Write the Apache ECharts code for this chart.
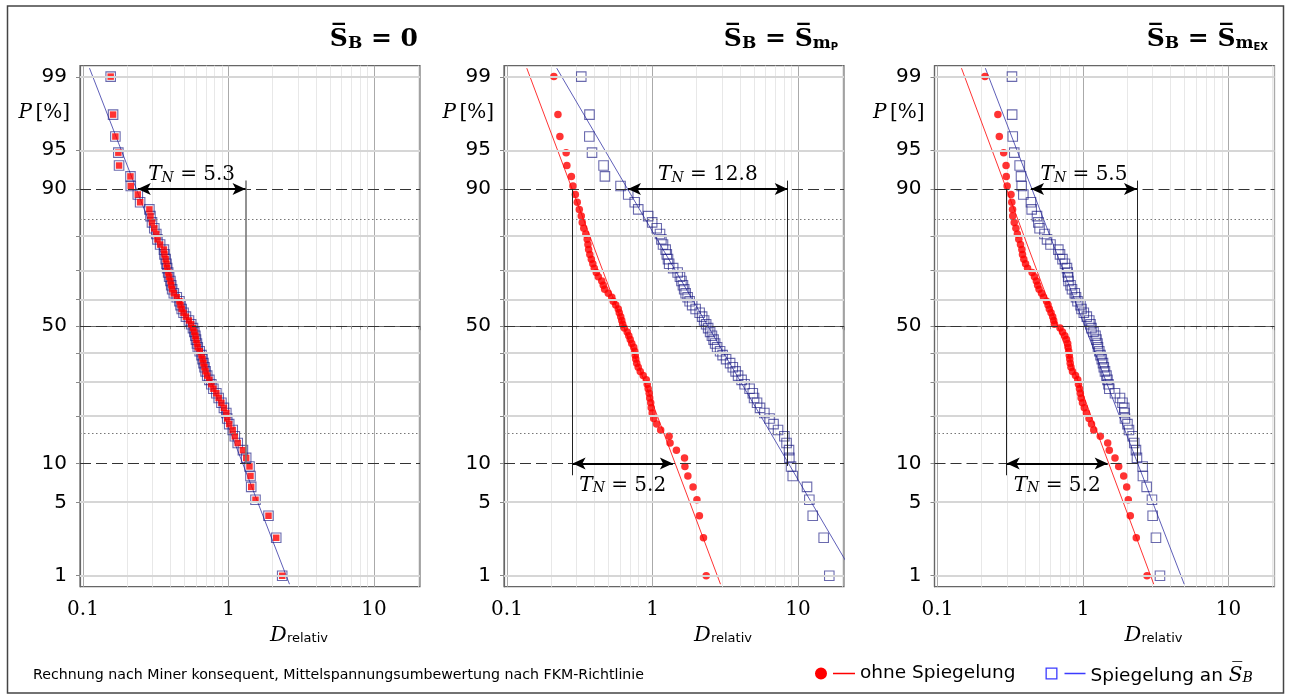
<!DOCTYPE html>
<html><head><meta charset="utf-8">
<script src="https://cdn.jsdelivr.net/npm/echarts@6/dist/echarts.min.js"></script>
<style>html,body{margin:0;padding:0;background:#fff}#c{width:1291px;height:698px}</style>
</head><body><div id="c"></div><script>
// ---- data ----
const P_PERCENT = [99.01,97.59,96.17,94.74,93.32,91.90,90.48,89.06,87.64,86.22,
 84.80,83.38,81.96,80.54,79.12,77.70,76.28,74.86,73.44,72.02,
 70.60,69.18,67.76,66.34,64.91,63.49,62.07,60.65,59.23,57.81,
 56.39,54.97,53.55,52.13,50.71,49.29,47.87,46.45,45.03,43.61,
 42.19,40.77,39.35,37.93,36.51,35.09,33.66,32.24,30.82,29.40,
 27.98,26.56,25.14,23.72,22.30,20.88,19.46,18.04,16.62,15.20,
 13.78,12.36,10.94,9.52,8.10,6.68,5.26,3.84,2.41,0.99];
const D_PANEL1 = [0.155,0.161,0.167,0.175,0.177,0.212,0.213,0.238,0.247,0.286,
 0.291,0.298,0.309,0.319,0.325,0.339,0.360,0.363,0.370,0.375,
 0.379,0.385,0.391,0.399,0.404,0.410,0.421,0.441,0.460,0.468,
 0.477,0.491,0.510,0.535,0.554,0.570,0.582,0.592,0.598,0.607,
 0.615,0.634,0.652,0.663,0.673,0.684,0.696,0.714,0.739,0.762,
 0.787,0.825,0.856,0.894,0.930,0.966,0.980,1.011,1.069,1.105,
 1.157,1.256,1.323,1.394,1.416,1.432,1.533,1.883,2.128,2.339];
const D_PANEL2_RED = [0.210,0.224,0.231,0.255,0.258,0.277,0.284,0.295,0.304,0.314,
 0.324,0.329,0.337,0.348,0.356,0.360,0.364,0.371,0.380,0.389,
 0.398,0.411,0.424,0.448,0.459,0.469,0.497,0.525,0.537,0.559,
 0.582,0.591,0.605,0.615,0.624,0.640,0.670,0.687,0.703,0.720,
 0.743,0.755,0.761,0.767,0.779,0.798,0.824,0.863,0.906,0.920,
 0.934,0.949,0.957,0.972,0.980,0.995,1.019,1.068,1.138,1.300,
 1.320,1.460,1.660,1.670,1.750,1.900,2.020,2.100,2.240,2.340];
const D_PANEL2_BLUE = [0.324,0.369,0.368,0.384,0.461,0.471,0.603,0.681,0.755,0.798,
 0.934,0.995,1.069,1.126,1.151,1.181,1.232,1.254,1.278,1.302,
 1.387,1.489,1.544,1.581,1.619,1.651,1.690,1.744,1.800,1.873,
 1.979,2.109,2.194,2.264,2.337,2.412,2.489,2.561,2.630,2.693,
 2.780,2.915,3.032,3.205,3.415,3.563,3.724,3.874,4.095,4.294,
 4.647,4.889,4.989,5.230,5.484,5.871,6.374,6.789,7.290,8.054,
 8.339,8.674,8.716,8.954,9.196,11.53,11.96,12.62,15.01,16.40];
const D_PANEL3_RED = [0.212,0.260,0.266,0.285,0.296,0.297,0.301,0.320,0.324,0.328,
 0.329,0.337,0.346,0.354,0.362,0.372,0.380,0.384,0.392,0.403,
 0.416,0.447,0.464,0.478,0.488,0.499,0.519,0.536,0.562,0.575,
 0.587,0.603,0.619,0.629,0.637,0.695,0.723,0.750,0.770,0.785,
 0.789,0.798,0.805,0.811,0.817,0.827,0.847,0.888,0.920,0.931,
 0.946,0.958,0.971,0.992,1.021,1.055,1.100,1.144,1.185,1.315,
 1.478,1.516,1.659,1.759,1.904,1.996,2.047,2.113,2.323,2.753];
const D_PANEL3_BLUE = [0.325,0.326,0.329,0.337,0.367,0.375,0.379,0.389,0.439,0.444,
 0.483,0.493,0.503,0.544,0.566,0.598,0.677,0.695,0.723,0.752,
 0.776,0.785,0.791,0.795,0.821,0.840,0.878,0.895,0.917,0.961,
 0.977,1.013,1.062,1.105,1.126,1.144,1.181,1.219,1.238,1.258,
 1.268,1.294,1.319,1.346,1.372,1.390,1.416,1.450,1.473,1.497,
 1.516,1.659,1.796,1.868,1.922,1.930,1.943,2.021,2.070,2.194,
 2.250,2.312,2.349,2.570,2.580,2.739,2.978,3.011,3.172,3.380];
// fitted lines: D at P = 99.2 % and 0.8 %
const FIT_P = [99.2, 0.8];
const FIT_PANEL1 = [0.1109, 2.626];
const FIT_PANEL2_RED = [0.1368, 2.934];
const FIT_PANEL2_BLUE = [0.2197, 26.4];
const FIT_PANEL3_RED = [0.1462, 3.064];
const FIT_PANEL3_BLUE = [0.2133, 4.963];
// scatter-band annotations
const TN_LABELS = [['5.3'], ['12.8', '5.2'], ['5.5', '5.2']];
const TN_LEVEL = [[90], [90, 10], [90, 10]];
const TN_FROM = [[0.238], [0.678, 0.2825], [0.4395, 0.299]];
const TN_TO = [[1.309], [8.50, 1.38], [2.349, 1.478]];
const VLINE_X = [[1.309], [8.50, 0.2825], [2.349, 0.299]];
const VLINE_P = [[[91.3, 10]], [[91.3, 9.6], [90, 8.2]], [[91.3, 10], [90, 8.2]]];
// axes
const Y_LABELS = [1, 5, 10, 50, 90, 95, 99];
const Y_TICKS = [1, 5, 10, 20, 30, 40, 50, 60, 70, 80, 90, 95, 99];
const GRID_P_SOLID = [1, 5, 20, 30, 40, 60, 70, 80, 95, 99];
const GRID_P_DASHED = [10, 50, 90];
const GRID_P_DOTTED = [15.87, 84.13];
const X_LABELS = [0.1, 1, 10];
const TITLES = ['{s|S\u0305}{b|B}{e| = 0}', '{s|S\u0305}{b|B}{e| = }{s|S\u0305}{b|m}{t|P}', '{s|S\u0305}{b|B}{e| = }{s|S\u0305}{b|m}{t|EX}'];

// ---- probability (normal) scale transform ----
function probit(p){
 const a=[-3.969683028665376e+01,2.209460984245205e+02,-2.759285104469687e+02,1.383577518672690e+02,-3.066479806614716e+01,2.506628277459239e+00];
 const b=[-5.447609879822406e+01,1.615858368580409e+02,-1.556989798598866e+02,6.680131188771972e+01,-1.328068155288572e+01];
 const c=[-7.784894002430293e-03,-3.223964580411365e-01,-2.400758277161838e+00,-2.549732539343734e+00,4.374664141464968e+00,2.938163982698783e+00];
 const d=[7.784695709041462e-03,3.224671290700398e-01,2.445134137142996e+00,3.754408661907416e+00];
 const pl=0.02425, ph=1-pl; let q, r;
 if(p<pl){q=Math.sqrt(-2*Math.log(p));return (((((c[0]*q+c[1])*q+c[2])*q+c[3])*q+c[4])*q+c[5])/((((d[0]*q+d[1])*q+d[2])*q+d[3])*q+1);}
 if(p>ph){q=Math.sqrt(-2*Math.log(1-p));return -(((((c[0]*q+c[1])*q+c[2])*q+c[3])*q+c[4])*q+c[5])/((((d[0]*q+d[1])*q+d[2])*q+d[3])*q+1);}
 q=p-0.5;r=q*q;return (((((a[0]*r+a[1])*r+a[2])*r+a[3])*r+a[4])*r+a[5])*q/(((((b[0]*r+b[1])*r+b[2])*r+b[3])*r+b[4])*r+1);
}
const z = p => probit(p / 100);

const RED = '#ff0000';
const BLUE_MARK = 'rgba(22,22,128,0.8)';
const BLUE_LINE = '#3636a6';
const NAME_RED = 'ohne Spiegelung';
const NAME_BLUE = 'Spiegelung an S_B';
const SERIF = 'DejaVu Serif';
const SANS = 'DejaVu Sans';

const panels = [
 {left: 80, red: D_PANEL1, blue: D_PANEL1, fitRed: null, fitBlue: FIT_PANEL1, redSymbol: 'rect', vColor: '#777', vWidth: 1.6},
 {left: 504, red: D_PANEL2_RED, blue: D_PANEL2_BLUE, fitRed: FIT_PANEL2_RED, fitBlue: FIT_PANEL2_BLUE, redSymbol: 'circle', vColor: '#222', vWidth: 1},
 {left: 934.5, red: D_PANEL3_RED, blue: D_PANEL3_BLUE, fitRed: FIT_PANEL3_RED, fitBlue: FIT_PANEL3_BLUE, redSymbol: 'circle', vColor: '#222', vWidth: 1}
];
const TOP = 65.7, H = 521, W = 340;
const Z_MIN = -2.432, Z_MAX = 2.432;

const grids = [], xAxes = [], yAxes = [], series = [], titles = [];
const titleRight = [873, 453, 23];

const tnRich = {
 i: {fontFamily: SERIF, fontStyle: 'italic', fontSize: 20, color: '#000', verticalAlign: 'bottom', lineHeight: 24},
 s: {fontFamily: SERIF, fontStyle: 'italic', fontSize: 14, color: '#000', verticalAlign: 'bottom', lineHeight: 16},
 r: {fontFamily: SERIF, fontSize: 20, color: '#000', verticalAlign: 'bottom', lineHeight: 24}
};

panels.forEach((pn, k) => {
 grids.push({left: pn.left, top: TOP, width: W, height: H, show: true, borderColor: '#666', borderWidth: 1.2, backgroundColor: 'transparent'});
 xAxes.push({
  type: 'log', logBase: 10, gridIndex: k, min: 0.0954, max: 20.7,
  name: '{i|D}{s|relativ}', nameLocation: 'middle', nameGap: 22,
  nameTextStyle: {padding: [0, 0, 0, 98], rich: {
   i: {fontFamily: SERIF, fontStyle: 'italic', fontSize: 21, color: '#000', verticalAlign: 'bottom', lineHeight: 26},
   s: {fontFamily: SANS, fontSize: 13, color: '#000', verticalAlign: 'bottom', lineHeight: 16}}},
  axisLine: {show: true, lineStyle: {color: '#666', width: 1.2}},
  axisTick: {show: true, length: 4, lineStyle: {color: '#888'}},
  minorTick: {show: true, splitNumber: 9, length: 3, lineStyle: {color: '#999'}},
  splitLine: {show: true, lineStyle: {color: '#aaa', width: 1}},
  minorSplitLine: {show: true, lineStyle: {color: '#e8e8e8', width: 1}},
  axisLabel: {margin: 13, fontFamily: SERIF, fontSize: 20, color: '#000', showMinLabel: true, showMaxLabel: true,
   formatter: v => { const f = X_LABELS.find(t => Math.abs(v / t - 1) < 1e-6); return f === undefined ? '' : String(f); }}
 });
 yAxes.push({
  type: 'value', gridIndex: k, min: Z_MIN, max: Z_MAX,
  name: '{i|P} {r|[%]}', nameLocation: 'end', nameGap: -47,
  nameTextStyle: {align: 'right', verticalAlign: 'middle', padding: [0, 10, 0, 0], rich: {
   i: {fontFamily: SERIF, fontStyle: 'italic', fontSize: 20, color: '#000'},
   r: {fontFamily: SERIF, fontSize: 20, color: '#000'}}},
  splitLine: {show: false},
  axisLine: {show: true, lineStyle: {color: '#666', width: 1.2}},
  axisTick: {show: true, length: 4, customValues: Y_TICKS.map(z), lineStyle: {color: '#888'}},
  axisLabel: {margin: 13, fontFamily: SANS, fontSize: 20, color: '#000', customValues: Y_LABELS.map(z),
   formatter: v => { const f = Y_LABELS.find(p => Math.abs(z(p) - v) < 1e-6); return f === undefined ? '' : String(f); }}
 });
 titles.push({text: TITLES[k], right: titleRight[k], top: 22, padding: 0, textStyle: {rich: {
  s: {fontFamily: SERIF, fontWeight: 'bold', fontSize: 25, color: '#000', verticalAlign: 'bottom', lineHeight: 30},
  e: {fontFamily: SERIF, fontWeight: 'bold', fontSize: 25, color: '#000', verticalAlign: 'bottom', lineHeight: 30},
  b: {fontFamily: SERIF, fontWeight: 'bold', fontSize: 17, color: '#000', verticalAlign: 'bottom', lineHeight: 20},
  t: {fontFamily: SANS, fontSize: 10, color: '#000', verticalAlign: 'bottom', lineHeight: 13}}}});

 // background horizontal grid lines
 const hl = [];
 GRID_P_SOLID.forEach(p => hl.push({yAxis: z(p), lineStyle: {color: '#d6d6d6', width: 1.8, type: 'solid'}}));
 GRID_P_DOTTED.forEach(p => hl.push({yAxis: z(p), lineStyle: {color: '#777', width: 1, type: [1.5, 2.5]}}));
 GRID_P_DASHED.forEach(p => hl.push({yAxis: z(p), lineStyle: {color: '#333', width: 1.2, type: [11, 5]}}));
 series.push({type: 'line', xAxisIndex: k, yAxisIndex: k, data: [], z: 1, silent: true,
  markLine: {silent: true, symbol: 'none', animation: false, label: {show: false}, data: hl}});

 // data
 series.push({name: NAME_BLUE, type: 'scatter', xAxisIndex: k, yAxisIndex: k, z: 3, symbol: 'rect', symbolSize: 9.5,
  itemStyle: {color: 'rgba(0,0,0,0)', borderColor: BLUE_MARK, borderWidth: 1.1},
  data: pn.blue.map((x, i) => [x, z(P_PERCENT[i])])});
 series.push({name: NAME_RED, type: 'scatter', xAxisIndex: k, yAxisIndex: k, z: 4, symbol: pn.redSymbol, symbolSize: pn.redSymbol === 'rect' ? 6.5 : 7.5,
  itemStyle: {color: RED},
  data: pn.red.map((x, i) => [x, z(P_PERCENT[i])])});
 if (pn.fitBlue) series.push({name: NAME_BLUE, type: 'line', xAxisIndex: k, yAxisIndex: k, z: 2, showSymbol: false, symbol: 'none', clip: true,
  lineStyle: {color: BLUE_LINE, width: 0.8}, data: pn.fitBlue.map((x, i) => [x, z(FIT_P[i])])});
 if (pn.fitRed) series.push({name: NAME_RED, type: 'line', xAxisIndex: k, yAxisIndex: k, z: 2, showSymbol: false, symbol: 'none', clip: true,
  lineStyle: {color: RED, width: 0.8}, data: pn.fitRed.map((x, i) => [x, z(FIT_P[i])])});

 // T_N annotations
 const vl = VLINE_X[k].map((x, j) => [{coord: [x, z(VLINE_P[k][j][0])]}, {coord: [x, z(VLINE_P[k][j][1])]}]);
 series.push({type: 'line', xAxisIndex: k, yAxisIndex: k, data: [], z: 5, silent: true,
  markLine: {silent: true, symbol: 'none', animation: false, label: {show: false},
   lineStyle: {color: pn.vColor, width: pn.vWidth, type: 'solid'}, data: vl}});
 const ar = TN_LABELS[k].map((lab, j) => [
  {coord: [TN_FROM[k][j], z(TN_LEVEL[k][j])],
   label: {show: true, position: TN_LEVEL[k][j] > 50 ? 'insideMiddleTop' : 'insideMiddleBottom', distance: TN_LEVEL[k][j] > 50 ? 4 : 8,
    formatter: '{i|T}{s|N}{r| = ' + lab + '}', rich: tnRich}},
  {coord: [TN_TO[k][j], z(TN_LEVEL[k][j])]}]);
 series.push({type: 'line', xAxisIndex: k, yAxisIndex: k, data: [], z: 6, silent: true,
  markLine: {silent: true, symbol: ['arrow', 'arrow'], symbolSize: [9, 13], animation: false,
   lineStyle: {color: '#000', width: 2, type: 'solid'}, data: ar}});
});

titles.push({text: 'Rechnung nach Miner konsequent, Mittelspannungsumbewertung nach FKM-Richtlinie', left: 33, top: 668, padding: 0,
 textStyle: {fontFamily: SANS, fontSize: 14.2, fontWeight: 'normal', color: '#000'}});

const chart = echarts.init(document.getElementById('c'), null, {renderer: 'canvas'});
chart.setOption({
 animation: false,
 backgroundColor: '#fff',
 title: titles,
 grid: grids, xAxis: xAxes, yAxis: yAxes, series: series,
 legend: {
  left: 815, top: 664, itemWidth: 40, itemHeight: 12, itemGap: 30, padding: 0,
  itemStyle: {borderWidth: 0},
  textStyle: {fontFamily: SANS, fontSize: 18.5, color: '#000', rich: {
   o: {fontFamily: SERIF, fontStyle: 'italic', fontSize: 20, color: '#000', verticalAlign: 'bottom', lineHeight: 24},
   b: {fontFamily: SERIF, fontStyle: 'italic', fontSize: 14, color: '#000', verticalAlign: 'bottom', lineHeight: 16},
   n: {fontFamily: SANS, fontSize: 18.5, color: '#000', verticalAlign: 'bottom', lineHeight: 24}}},
  formatter: name => name === NAME_BLUE ? '{n|Spiegelung an }{o|S\u0305}{b|B}' : name,
  data: [
   {name: NAME_RED, icon: 'path://M0,6 A6,6 0 1,1 12,6 A6,6 0 1,1 0,6 Z M18,5.3 L40,5.3 L40,6.7 L18,6.7 Z', itemStyle: {color: '#ff0000', borderWidth: 0, opacity: 1}},
   {name: NAME_BLUE, icon: 'path://M0,0 L12,0 L12,12 L0,12 Z M1.3,1.3 L1.3,10.7 L10.7,10.7 L10.7,1.3 Z M19,5.3 L40,5.3 L40,6.7 L19,6.7 Z', itemStyle: {color: '#3b3bff', borderWidth: 0, opacity: 1}}
  ]
 },
 graphic: [{type: 'rect', shape: {x: 7.5, y: 6, width: 1276, height: 687}, style: {fill: 'none', stroke: '#444', lineWidth: 1.5}, silent: true, z: -10}]
});
</script></body></html>
